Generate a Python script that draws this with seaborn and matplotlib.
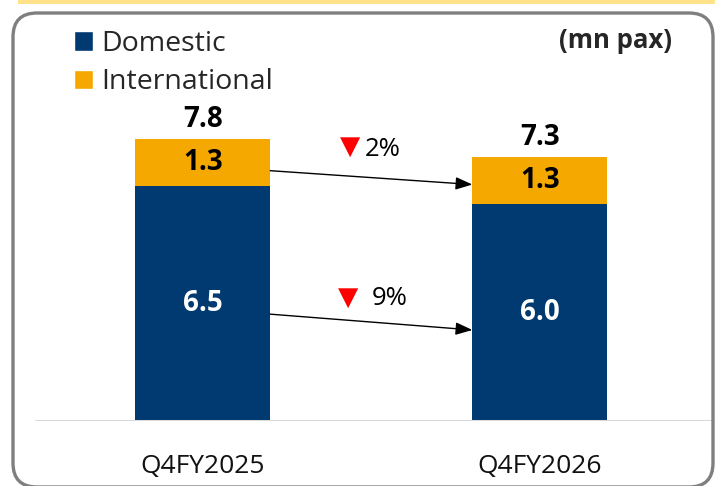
import matplotlib
matplotlib.use("Agg")
import matplotlib.pyplot as plt
import seaborn as sns
import pandas as pd
from matplotlib.patches import FancyBboxPatch, Rectangle, Patch
from matplotlib.transforms import IdentityTransform

categories = ["Q4FY2025", "Q4FY2026"]
domestic = [6.5, 6.0]
international = [1.3, 1.3]
totals = [7.8, 7.3]
dom_change = "9%"
intl_change = "2%"

NAVY = "#003A70"
GOLD = "#F5A800"

sns.set_theme(style="white")
plt.rcParams["font.family"] = ["Open Sans", "DejaVu Sans"]

fig = plt.figure(figsize=(7.15, 4.86), dpi=100)
W, H = 715, 486
ax = fig.add_axes([35 / W, (H - 421) / H, (715 - 35) / W, (421 - 20) / H])

df = pd.DataFrame({"cat": categories, "dom": domestic, "intl": international, "tot": totals})
sns.barplot(data=df, x="cat", y="tot", color=GOLD, width=0.4, saturation=1, ax=ax, edgecolor="none")
sns.barplot(data=df, x="cat", y="dom", color=NAVY, width=0.4, saturation=1, ax=ax, edgecolor="none")

ax.set_xlim(-0.498, 1.52)
ax.set_ylim(0, 11.1)
for s in ax.spines.values():
    s.set_visible(False)
ax.axhline(0, color="#D9D9D9", lw=2.2, zorder=5)
ax.set_yticks([])
ax.set_xlabel("")
ax.set_ylabel("")
ax.tick_params(axis="x", length=0, pad=24, labelsize=19, labelcolor="#111111")

for i in range(len(categories)):
    ax.annotate(f"{totals[i]:.1f}", (i, totals[i]), xytext=(0, 4), textcoords="offset points",
                ha="center", va="bottom", fontsize=20, fontweight="bold", color="black")
    ax.text(i, domestic[i] + international[i] / 2, f"{international[i]:.1f}", ha="center", va="center",
            fontsize=20, fontweight="bold", color="black")
    ax.text(i, domestic[i] / 2, f"{domestic[i]:.1f}", ha="center", va="center",
            fontsize=20, fontweight="bold", color="white")

# arrows between bars
arrow = dict(arrowstyle="-|>,head_length=0.85,head_width=0.32", color="black", lw=1.0,
             shrinkA=0, shrinkB=0)
ax.annotate("", xy=(0.8, domestic[1] + international[1] * 0.42),
            xytext=(0.2, domestic[0] + international[0] * 0.33), arrowprops=arrow)
ax.annotate("", xy=(0.8, domestic[1] * 0.42),
            xytext=(0.2, domestic[0] * 0.455), arrowprops=arrow)

ax.text(0.438, 7.6, "▼", color="#FF0000", fontsize=19, ha="center", va="center", family="DejaVu Sans")
ax.text(0.481, 7.52, intl_change, color="black", fontsize=18.5, ha="left", va="center")
ax.text(0.432, 3.42, "▼", color="#FF0000", fontsize=19, ha="center", va="center", family="DejaVu Sans")
ax.text(0.501, 3.38, dom_change, color="black", fontsize=18.5, ha="left", va="center")

# legend
handles = [Patch(facecolor=NAVY, label="Domestic"), Patch(facecolor=GOLD, label="International")]
fig.legend(handles=handles, loc="upper left", bbox_to_anchor=(74 / W, 1 - 30 / H), frameon=False,
           fontsize=20.5, handlelength=0.65, handleheight=0.65, handletextpad=0.3, labelspacing=0.36,
           borderaxespad=0, borderpad=0)

fig.text(672 / W, 1 - 40 / H, "(mn pax)", ha="right", va="center", fontsize=18.5, fontweight="bold")

# frame
fig.add_artist(Rectangle((18, H - 4), 697, 6, transform=IdentityTransform(), facecolor="#FFE289",
                         edgecolor="none"))
fig.add_artist(FancyBboxPatch((13, -1), 700, H - 12, boxstyle="round,pad=0,rounding_size=24",
                              transform=IdentityTransform(), facecolor="none", edgecolor="#7F7F7F",
                              lw=2.4, zorder=10))

fig.savefig("out.png", dpi=100)
